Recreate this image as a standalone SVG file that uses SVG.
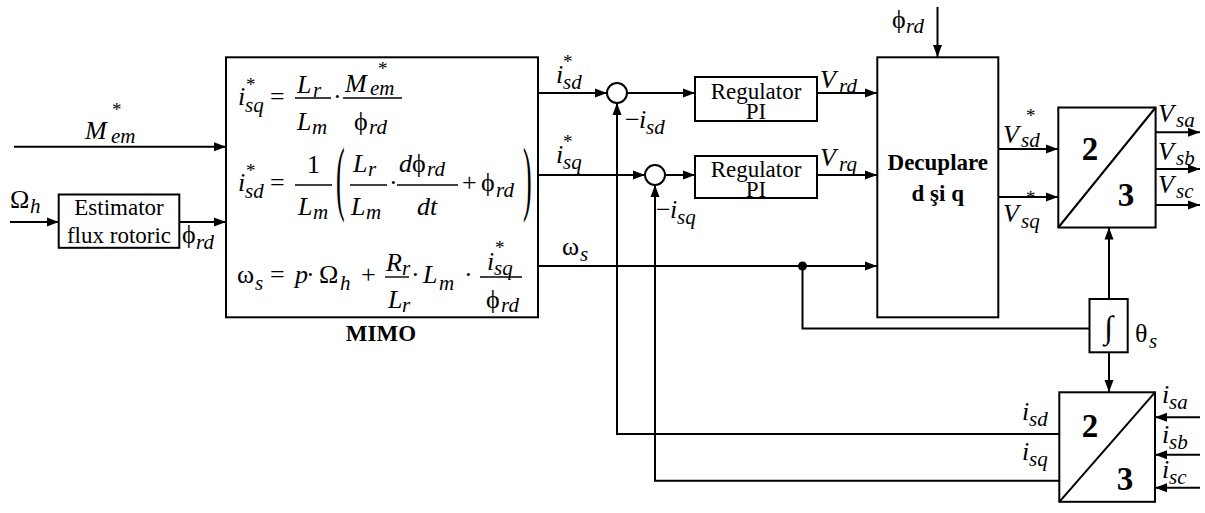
<svg xmlns="http://www.w3.org/2000/svg" width="1205" height="513" viewBox="0 0 1205 513" font-family="'Liberation Serif', 'Times New Roman', Times, serif">
<defs>
<style>
.ln{stroke:#000;stroke-width:2;fill:none}
.box{fill:#fff;stroke:#000;stroke-width:2}
.bar{stroke:#000;stroke-width:1.4}
.t,.m,.u,.s,.a,.big{font-family:'Liberation Serif','Times New Roman',Times,serif;fill:#000}
.t{font-size:23px}
.m{font-size:26px;font-style:italic}
.u{font-size:26px}
.s{font-size:21px;font-style:italic}
.a{font-size:19px}
.b{font-weight:bold}
.c{text-anchor:middle}
.big{font-size:33px;font-weight:bold;text-anchor:middle}
</style>
<marker id="ah" viewBox="0 0 12 10" refX="12" refY="5" markerWidth="12" markerHeight="10" markerUnits="userSpaceOnUse" orient="auto">
<path d="M0,0.5 L12,5 L0,9.5 z" fill="#000"/>
</marker>
</defs>
<rect width="1205" height="513" fill="#fff"/>

<g id="connectors">
<path class="ln" d="M14,146.7 H226" marker-end="url(#ah)"/>
<path class="ln" d="M10,222 H58.7" marker-end="url(#ah)"/>
<path class="ln" d="M179.3,222 H226" marker-end="url(#ah)"/>
<path class="ln" d="M538,93 H607" marker-end="url(#ah)"/>
<path class="ln" d="M627,93 H695" marker-end="url(#ah)"/>
<path class="ln" d="M538,175 H645" marker-end="url(#ah)"/>
<path class="ln" d="M665,175 H695" marker-end="url(#ah)"/>
<path class="ln" d="M817,93 H877" marker-end="url(#ah)"/>
<path class="ln" d="M817,175 H877" marker-end="url(#ah)"/>
<path class="ln" d="M538,266 H877" marker-end="url(#ah)"/>
<path class="ln" d="M802.5,266 V328.5 H1089.5"/>
<path class="ln" d="M937.5,7 V57" marker-end="url(#ah)"/>
<path class="ln" d="M998,149 H1058" marker-end="url(#ah)"/>
<path class="ln" d="M998,197 H1058" marker-end="url(#ah)"/>
<path class="ln" d="M1155.5,132.3 H1200" marker-end="url(#ah)"/>
<path class="ln" d="M1155.5,169 H1200" marker-end="url(#ah)"/>
<path class="ln" d="M1155.5,205 H1200" marker-end="url(#ah)"/>
<path class="ln" d="M1109,299 V227.5" marker-end="url(#ah)"/>
<path class="ln" d="M1109,352.3 V392" marker-end="url(#ah)"/>
<path class="ln" d="M1200,417.3 H1155" marker-end="url(#ah)"/>
<path class="ln" d="M1200,454.7 H1155" marker-end="url(#ah)"/>
<path class="ln" d="M1200,487.7 H1155" marker-end="url(#ah)"/>
<path class="ln" d="M1059,434 H617 V103" marker-end="url(#ah)"/>
<path class="ln" d="M1059,480.7 H655 V185" marker-end="url(#ah)"/>
<circle cx="802.5" cy="266" r="4.5" fill="#000"/>
</g>

<g id="labels">
<text class="m" x="85" y="139">M</text><text class="a" x="112" y="116">*</text><text class="s" x="111" y="143">em</text>
<text class="u" x="10" y="208">Ω</text><text class="s" x="30" y="213">h</text>
<text class="u" x="182" y="243">ϕ</text><text class="s" x="196" y="249">rd</text>
<text class="m" x="556" y="83">i</text><text class="a" x="563" y="68">*</text><text class="s" x="563" y="89">sd</text>
<text class="u" x="625" y="128">−</text><text class="m" x="639" y="128">i</text><text class="s" x="646" y="134">sd</text>
<text class="m" x="556" y="163">i</text><text class="a" x="563" y="148">*</text><text class="s" x="563" y="169">sq</text>
<text class="u" x="656" y="218">−</text><text class="m" x="670" y="218">i</text><text class="s" x="677" y="224">sq</text>
<text class="u" x="562" y="255">ω</text><text class="s" x="580" y="261">s</text>
<text class="m" x="820" y="88">V</text><text class="s" x="839" y="93">rd</text>
<text class="m" x="820" y="166">V</text><text class="s" x="839" y="171">rq</text>
<text class="u" x="892" y="28">ϕ</text><text class="s" x="906" y="33">rd</text>
<text class="m" x="1003" y="143">V</text><text class="a" x="1026" y="122">*</text><text class="s" x="1021" y="147">sd</text>
<text class="m" x="1003" y="222">V</text><text class="a" x="1026" y="204">*</text><text class="s" x="1021" y="228">sq</text>
<text class="m" x="1158" y="122">V</text><text class="s" x="1176" y="127">sa</text>
<text class="m" x="1158" y="160">V</text><text class="s" x="1176" y="165">sb</text>
<text class="m" x="1158" y="193">V</text><text class="s" x="1176" y="198">sc</text>
<text class="m" x="1162" y="403">i</text><text class="s" x="1169" y="409">sa</text>
<text class="m" x="1162" y="443">i</text><text class="s" x="1169" y="449">sb</text>
<text class="m" x="1162" y="478">i</text><text class="s" x="1169" y="484">sc</text>
<text class="m" x="1022" y="420">i</text><text class="s" x="1029" y="426">sd</text>
<text class="m" x="1022" y="460">i</text><text class="s" x="1029" y="466">sq</text>
<text class="u" x="1135" y="342">θ</text><text class="s" x="1149" y="348">s</text>
</g>

<g id="estimator">
<rect class="box" x="58.7" y="194.5" width="120.6" height="53.3"/>
<text class="t c" x="119" y="215">Estimator</text>
<text class="t c" x="119" y="243">flux rotoric</text>
</g>

<g id="mimo">
<rect class="box" x="226" y="57.3" width="312" height="260"/>
<text class="m" x="238" y="105">i</text><text class="a" x="246" y="91">*</text><text class="s" x="245" y="112">sq</text>
<text class="u" x="270" y="105">=</text>
<line class="bar" x1="295" y1="98" x2="331" y2="98"/>
<text class="m" x="297" y="93">L</text><text class="s" x="313" y="97">r</text>
<text class="m" x="297" y="130">L</text><text class="s" x="312" y="134">m</text>
<text class="u" x="333" y="105">·</text>
<line class="bar" x1="343" y1="98" x2="402" y2="98"/>
<text class="m" x="345" y="92">M</text><text class="a" x="378" y="75">*</text><text class="s" x="370" y="95">em</text>
<text class="u" x="354" y="130">ϕ</text><text class="s" x="369" y="134">rd</text>
<text class="m" x="238" y="191">i</text><text class="a" x="246" y="177">*</text><text class="s" x="245" y="198">sd</text>
<text class="u" x="270" y="191">=</text>
<text class="u" x="307" y="173">1</text>
<line class="bar" x1="295" y1="185" x2="332" y2="185"/>
<text class="m" x="298" y="215">L</text><text class="s" x="313" y="219">m</text>
<text class="u" transform="translate(336,183.5) scale(1,3.2)" y="6.7">(</text>
<line class="bar" x1="350" y1="185" x2="387" y2="185"/>
<text class="m" x="353" y="172">L</text><text class="s" x="368" y="176">r</text>
<text class="m" x="351" y="215">L</text><text class="s" x="366" y="219">m</text>
<text class="u" x="389" y="191">·</text>
<line class="bar" x1="397" y1="185" x2="458" y2="185"/>
<text class="m" x="399" y="172">d</text><text class="u" x="412" y="172">ϕ</text><text class="s" x="427" y="176">rd</text>
<text class="m" x="417" y="215">dt</text>
<text class="u" x="462" y="191">+</text>
<text class="u" x="481" y="191">ϕ</text><text class="s" x="496" y="197">rd</text>
<text class="u" transform="translate(523,183.5) scale(1,3.2)" y="6.7">)</text>
<text class="u" x="237" y="283">ω</text><text class="s" x="255" y="290">s</text>
<text class="u" x="270" y="283">=</text>
<text class="m" x="295" y="283">p</text>
<text class="u" x="306" y="283">·</text>
<text class="u" x="319" y="283">Ω</text><text class="s" x="340" y="290">h</text>
<text class="u" x="361" y="283">+</text>
<line class="bar" x1="385" y1="277" x2="409" y2="277"/>
<text class="m" x="386" y="271">R</text><text class="s" x="402" y="275">r</text>
<text class="m" x="388" y="308">L</text><text class="s" x="402" y="312">r</text>
<text class="u" x="411" y="283">·</text>
<text class="m" x="423" y="283">L</text><text class="s" x="439" y="290">m</text>
<text class="u" x="464" y="283">·</text>
<line class="bar" x1="480" y1="277" x2="522" y2="277"/>
<text class="m" x="487" y="270">i</text><text class="a" x="495" y="254">*</text><text class="s" x="494" y="275">sq</text>
<text class="u" x="486" y="308">ϕ</text><text class="s" x="501" y="312">rd</text>
<text class="t b c" x="381" y="341">MIMO</text>
</g>

<g id="sum1"><circle class="box" cx="617" cy="93" r="10"/></g>
<g id="sum2"><circle class="box" cx="655" cy="175" r="10"/></g>

<g id="reg1">
<rect class="box" x="695" y="77" width="122" height="44"/>
<text class="t c" x="756" y="99">Regulator</text>
<text class="t c" x="756" y="119">PI</text>
</g>
<g id="reg2">
<rect class="box" x="695" y="156" width="122" height="42"/>
<text class="t c" x="756" y="177">Regulator</text>
<text class="t c" x="756" y="197">PI</text>
</g>

<g id="decuplare">
<rect class="box" x="877.3" y="57.3" width="121" height="260"/>
<text class="t b c" x="937.8" y="170">Decuplare</text>
<text class="t b c" x="937.8" y="201">d şi q</text>
</g>

<g id="conv-up">
<rect class="box" x="1058.3" y="107.5" width="97.3" height="120"/>
<path class="ln" d="M1058.3,227.5 L1155.6,107.5"/>
<text class="big" x="1090" y="160">2</text>
<text class="big" x="1126" y="206">3</text>
</g>

<g id="integrator">
<rect class="box" x="1089.5" y="299" width="38.2" height="53.3"/>
<text class="u c" x="1108.6" y="338" style="font-size:32px">∫</text>
</g>

<g id="conv-down">
<rect class="box" x="1059.3" y="392.3" width="95.7" height="109.5"/>
<path class="ln" d="M1059.3,501.8 L1155,392.3"/>
<text class="big" x="1090" y="437">2</text>
<text class="big" x="1125" y="490">3</text>
</g>
</svg>
